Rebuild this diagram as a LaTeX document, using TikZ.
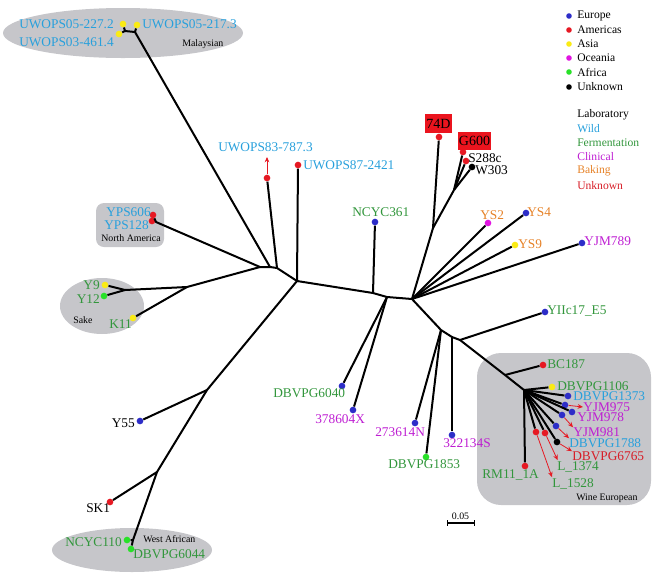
\documentclass[tikz,border=0pt]{standalone}
\usepackage{fontspec}
\setmainfont{Liberation Serif}
\usetikzlibrary{arrows.meta}
\definecolor{eur}{RGB}{45,45,200}
\definecolor{amr}{RGB}{230,25,35}
\definecolor{asia}{RGB}{250,235,20}
\definecolor{oce}{RGB}{225,20,225}
\definecolor{afr}{RGB}{40,225,40}
\definecolor{unkdot}{RGB}{0,0,0}
\definecolor{wild}{RGB}{40,160,220}
\definecolor{ferm}{RGB}{50,150,60}
\definecolor{clin}{RGB}{190,30,210}
\definecolor{bake}{RGB}{230,130,40}
\definecolor{unk}{RGB}{215,30,40}
\definecolor{bgc}{RGB}{198,198,202}
\definecolor{boxred}{RGB}{235,20,30}
\begin{document}
\begin{tikzpicture}[x=0.75pt,y=-0.75pt,
  br/.style={line width=1.5pt,line join=round},
  dot/.style={circle,fill=#1,inner sep=0pt,minimum size=5pt},
  lab/.style={font=\fontsize{10}{12}\selectfont,inner sep=0pt,anchor=west,text=#1},
  grp/.style={font=\fontsize{7.4}{9}\selectfont,inner sep=0pt,anchor=west},
  leg/.style={font=\fontsize{8.7}{10}\selectfont,inner sep=0pt,anchor=west,text=#1},
  arr/.style={draw=amr,line width=0.6pt,-{Stealth[length=4pt,width=3.5pt]}},
  redbox/.style={font=\fontsize{10.5}{12}\selectfont,fill=boxred,inner sep=0pt,minimum height=14pt,text=black}]
\useasboundingbox (0,0) rectangle (661,576);

% shaded groups
\fill[bgc] (123,33) ellipse [x radius=90pt, y radius=18.75pt];
\fill[bgc,rounded corners=6pt] (96,203) rectangle (164,247);
\fill[bgc] (102,306) ellipse [x radius=31.5pt, y radius=21pt];
\fill[bgc] (132,550) ellipse [x radius=60pt, y radius=16.5pt];
\fill[bgc,rounded corners=18pt] (477,353) rectangle (651,505);

% group labels
\node[grp] (gmal) at (182,44) {Malaysian};
\node[grp] (gna) at (101,238) {North America};
\node[grp] (gsake) at (73,320) {Sake};
\node[grp] (gwa) at (143,539) {West African};
\node[grp] (gwe) at (576,498) {Wine European};

% internal coordinates
\coordinate (m1) at (125,31);
\coordinate (m2) at (135,32);
\coordinate (A1) at (260,267);
\coordinate (A2) at (270,267);
\coordinate (A3) at (277,268);
\coordinate (C1) at (297,281);
\coordinate (yp) at (156,222);
\coordinate (s1) at (187,287);
\coordinate (s2) at (125,290);
\coordinate (b1) at (207,390);
\coordinate (b2) at (157,472);
\coordinate (wa) at (133,540);
\coordinate (c2) at (373,293);
\coordinate (c3) at (387,297);
\coordinate (R) at (412,299);
\coordinate (r1) at (433,228);
\coordinate (r2) at (454,190);
\coordinate (d1) at (441,330);
\coordinate (d2) at (452,337);
\coordinate (d3) at (460,340);
\coordinate (d4) at (505,375);
\coordinate (W1) at (524,390);

% leaf dots
\node[dot=asia] (t1) at (123,24) {};
\node[dot=asia] (t2) at (137,25) {};
\node[dot=asia] (t3) at (119,34) {};
\node[dot=amr] (t4) at (267,178) {};
\node[dot=amr] (t5) at (298,165) {};
\node[dot=amr] (t6) at (153,215) {};
\node[dot=amr] (t7) at (152,221) {};
\node[dot=asia] (t8) at (105,285) {};
\node[dot=afr] (t9) at (104,296) {};
\node[dot=asia] (t10) at (133,318) {};
\node[dot=eur] (t11) at (140,421) {};
\node[dot=amr] (t12) at (110,502) {};
\node[dot=afr] (t13) at (127,540) {};
\node[dot=afr] (t14) at (131,549) {};
\node[dot=eur] (t15) at (375,222) {};
\node[dot=eur] (t16) at (342,386) {};
\node[dot=eur] (t17) at (353,410) {};
\node[dot=amr] (t18) at (439,137) {};
\node[dot=amr] (t19) at (463,152) {};
\node[dot=amr] (t20) at (466,161) {};
\node[dot=unkdot] (t21) at (472,167) {};
\node[dot=oce] (t22) at (488,223) {};
\node[dot=eur] (t23) at (526,213) {};
\node[dot=asia] (t24) at (515,245) {};
\node[dot=eur] (t25) at (582,243) {};
\node[dot=eur] (t26) at (415,423) {};
\node[dot=afr] (t27) at (426,457) {};
\node[dot=eur] (t28) at (452,435) {};
\node[dot=eur] (t29) at (545,312) {};
\node[dot=amr] (t30) at (543,365) {};
\node[dot=asia] (t31) at (552,387) {};
\node[dot=eur] (t32) at (568,396) {};
\node[dot=eur] (t33) at (565,405) {};
\node[dot=eur] (t34) at (572,412) {};
\node[dot=eur] (t35) at (562,415) {};
\node[dot=eur] (t36) at (556,426) {};
\node[dot=unkdot] (t37) at (557,442) {};
\node[dot=amr] (t38) at (545,433) {};
\node[dot=amr] (t39) at (536,432) {};
\node[dot=amr] (t40) at (525,466) {};

% branches
\draw[br] (t1) -- (m1) -- (t3);
\draw[br] (m1) -- (m2) -- (t2);
\draw[br] (m2) -- (A2);
\draw[br] (t6) -- (yp) -- (t7);
\draw[br] (yp) -- (A1);
\draw[br] (t8) -- (s2) -- (t9);
\draw[br] (s2) -- (s1) -- (A1);
\draw[br] (t10) -- (s1);
\draw[br] (A1) -- (A2) -- (A3) -- (C1);
\draw[br] (A3) -- (t4);
\draw[br] (C1) -- (t5);
\draw[br] (C1) -- (b1) -- (b2) -- (wa);
\draw[br] (b1) -- (t11);
\draw[br] (b2) -- (t12);
\draw[br] (t13) -- (wa) -- (t14);
\draw[br] (C1) -- (c2) -- (c3) -- (R);
\draw[br] (c2) -- (t15);
\draw[br] (c3) -- (t16);
\draw[br] (c3) -- (t17);
\draw[br] (R) -- (r1) -- (t18);
\draw[br] (r1) -- (r2);
\draw[br] (r2) -- (t19);
\draw[br] (r2) -- (t20);
\draw[br] (r2) -- (t21);
\draw[br] (R) -- (t22);
\draw[br] (R) -- (t23);
\draw[br] (R) -- (t24);
\draw[br] (R) -- (t25);
\draw[br] (R) -- (d1) -- (d2) -- (d3) -- (d4) -- (W1);
\draw[br] (d1) -- (t26);
\draw[br] (d1) -- (t27);
\draw[br] (d2) -- (t28);
\draw[br] (d3) -- (t29);
\draw[br] (d4) -- (t30);
\draw[br] (W1) -- (t31);
\foreach \t in {t32,t33,t34,t35,t36,t37,t38,t39,t40} \draw[br] (W1) -- (\t);

% labels
\node[lab=wild] (L1) at (19,24) {UWOPS05-227.2};
\node[lab=wild] (L2) at (142,24) {UWOPS05-217.3};
\node[lab=wild] (L3) at (19,42) {UWOPS03-461.4};
\node[lab=wild] (L4) at (218,147) {UWOPS83-787.3};
\node[lab=wild] (L5) at (303,165) {UWOPS87-2421};
\node[lab=wild] (L6) at (106,212) {YPS606};
\node[lab=wild] (L7) at (104,225) {YPS128};
\node[lab=ferm,anchor=east] (L8) at (100,285) {Y9};
\node[lab=ferm,anchor=east] (L9) at (100,299) {Y12};
\node[lab=ferm] (L10) at (109,324) {K11};
\node[lab=black,anchor=east] (L11) at (135,423) {Y55};
\node[lab=black] (L12) at (86,508) {SK1};
\node[lab=ferm] (L13) at (65,542) {NCYC110};
\node[lab=ferm] (L14) at (133,554) {DBVPG6044};
\node[lab=ferm] (L15) at (352,212) {NCYC361};
\node[lab=ferm] (L16) at (273,393) {DBVPG6040};
\node[lab=clin] (L17) at (315,419) {378604X};
\node[lab=clin] (L18) at (375,432) {273614N};
\node[lab=ferm] (L19) at (388,464) {DBVPG1853};
\node[lab=clin] (L20) at (443,443) {322134S};
\node[redbox,minimum width=20.25pt] (L21) at (438.5,123.5) {74D};
\node[redbox,minimum width=24.75pt] (L22) at (474.5,141) {G600};
\node[lab=black] (L23) at (468,158) {S288c};
\node[lab=black] (L24) at (475,170) {W303};
\node[lab=bake] (L25) at (480,215) {YS2};
\node[lab=bake] (L26) at (527,212) {YS4};
\node[lab=bake] (L27) at (518,244) {YS9};
\node[lab=clin] (L28) at (584,241) {YJM789};
\node[lab=ferm] (L29) at (547,311) {YIIc17\_E5};
\node[lab=ferm] (L30) at (547,364) {BC187};
\node[lab=ferm] (L31) at (557,386) {DBVPG1106};
\node[lab=wild] (L32) at (573,396) {DBVPG1373};
\node[lab=clin] (L33) at (583,407) {YJM975};
\node[lab=clin] (L34) at (577,417) {YJM978};
\node[lab=clin] (L35) at (573,432) {YJM981};
\node[lab=wild] (L36) at (569,443) {DBVPG1788};
\node[lab=unk] (L37) at (572,456) {DBVPG6765};
\node[lab=ferm] (L38) at (557,467) {L\_1374};
\node[lab=ferm] (L39) at (552,484) {L\_1528};
\node[lab=ferm] (L40) at (482,475) {RM11\_1A};

% red arrows
\coordinate (a4) at (267,157);
\draw[arr] (t4) -- (a4);
\draw[arr] (t33) -- (L33.west);
\draw[arr] (t35) -- (L35.north west);
\draw[arr] (t36) -- (L36.north west);
\draw[arr] (t37) -- (L37.north west);
\draw[arr] (t38) -- ([xshift=0.5pt,yshift=1pt]L38.north west);
\draw[arr] (t39) -- ([yshift=1pt]L39.north west);

% legend
\foreach \c/\n/\y [count=\i] in {eur/Europe/16,amr/Americas/30,asia/Asia/44,oce/Oceania/58,afr/Africa/72,unkdot/Unknown/87}
  \node[dot=\c,minimum size=4.2pt] (ld\i) at (569,\y) {};
\node[leg=black] (lg1) at (577,16) {Europe};
\node[leg=black] (lg2) at (577,30) {Americas};
\node[leg=black] (lg3) at (577,44) {Asia};
\node[leg=black] (lg4) at (577,58) {Oceania};
\node[leg=black] (lg5) at (577,72) {Africa};
\node[leg=black] (lg6) at (577,87) {Unknown};
\node[leg=black] (lh1) at (577,115) {Laboratory};
\node[leg=wild] (lh2) at (577,129) {Wild};
\node[leg=ferm] (lh3) at (577,143) {Fermentation};
\node[leg=clin] (lh4) at (577,157) {Clinical};
\node[leg=bake] (lh5) at (577,171) {Baking};
\node[leg=unk] (lh6) at (577,186) {Unknown};

% scale bar
\coordinate (sb1) at (447,523);
\coordinate (sb2) at (474,523);
\draw[line width=0.9pt] (sb1) -- (sb2);
\draw[line width=0.7pt] ([yshift=-2pt]sb1) -- ([yshift=2pt]sb1);
\draw[line width=0.7pt] ([yshift=-2pt]sb2) -- ([yshift=2pt]sb2);
\node[font=\fontsize{7.4}{9}\selectfont,inner sep=0pt] (sbl) at (460.5,516) {0.05};
\end{tikzpicture}
\end{document}
